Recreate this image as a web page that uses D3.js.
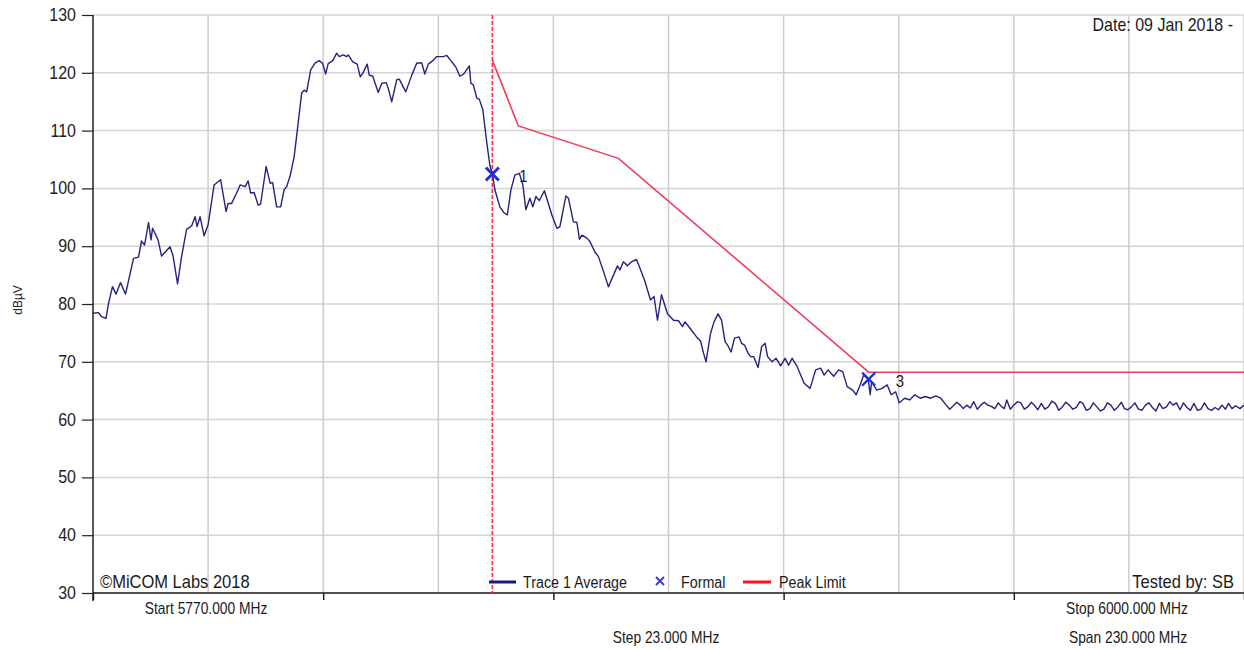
<!DOCTYPE html>
<html>
<head>
<meta charset="utf-8">
<script src="https://cdn.jsdelivr.net/npm/d3@7"></script>
<style>
html,body{margin:0;padding:0;background:#fff;}
svg{display:block;}
text{font-family:"Liberation Sans",Arial,sans-serif;fill:#1a1a1a;}
</style>
</head>
<body>
<svg id="chart" width="1244" height="650"></svg>
<script>
// ---------- data ----------
const freqMHz = [5770.0,5771.1,5771.7,5772.6,5773.1,5773.9,5774.6,5775.5,5776.5,5778.1,5779.1,5779.7,5780.3,5781.1,5781.6,5781.9,5783.0,5783.7,5785.4,5786.0,5786.9,5787.7,5788.7,5789.7,5790.4,5790.8,5791.4,5792.2,5793.0,5794.2,5795.5,5796.6,5797.0,5797.7,5798.7,5799.4,5800.4,5801.0,5801.5,5802.2,5803.0,5803.5,5804.6,5805.4,5805.9,5806.7,5807.5,5808.2,5808.7,5809.4,5810.2,5811.0,5811.7,5812.2,5812.7,5813.5,5814.4,5815.2,5815.9,5816.5,5817.0,5817.9,5818.7,5819.2,5820.0,5820.7,5821.0,5821.9,5822.8,5823.4,5823.9,5824.8,5825.2,5825.9,5827.0,5827.7,5828.6,5829.0,5829.7,5830.7,5831.2,5832.5,5833.7,5834.7,5835.7,5836.3,5837.0,5837.9,5838.7,5840.0,5840.7,5841.7,5842.5,5843.3,5844.1,5845.2,5845.5,5846.0,5846.7,5847.2,5847.9,5848.3,5848.8,5849.3,5849.8,5850.3,5851.3,5852.1,5852.8,5853.5,5854.3,5855.2,5855.9,5856.5,5857.3,5857.9,5858.5,5859.2,5860.2,5861.7,5862.7,5863.3,5864.5,5865.0,5866.0,5866.7,5867.2,5867.7,5868.7,5869.3,5870.3,5871.0,5871.9,5873.0,5874.0,5874.8,5875.3,5876.0,5876.8,5877.6,5878.6,5879.3,5880.3,5881.4,5882.1,5882.8,5883.6,5884.8,5886.0,5887.0,5887.8,5888.3,5889.3,5890.6,5891.4,5892.0,5892.5,5893.4,5894.1,5894.9,5895.6,5896.3,5896.8,5897.5,5898.2,5899.1,5899.6,5900.2,5900.9,5901.4,5902.0,5902.9,5903.6,5904.3,5904.8,5905.7,5906.5,5907.4,5908.3,5909.0,5909.7,5910.7,5912.1,5913.3,5914.4,5915.4,5916.1,5916.9,5918.0,5919.0,5919.8,5920.7,5921.8,5922.5,5923.3,5924.0,5924.9,5925.3,5925.6,5926.6,5927.7,5928.7,5929.5,5930.4,5931.1,5932.2,5933.2,5934.2,5935.3,5936.3,5937.4,5938.4,5939.4,5940.5,5941.2,5941.9,5942.6,5943.3,5943.9,5944.6,5945.3,5946.0,5946.7,5947.4,5948.1,5948.8,5949.5,5950.2,5950.9,5951.6,5952.1,5952.6,5953.3,5954.0,5954.7,5955.4,5956.1,5956.8,5957.5,5958.1,5958.8,5959.5,5960.2,5960.9,5961.6,5962.3,5963.0,5963.7,5964.4,5965.1,5965.8,5966.5,5967.2,5967.8,5968.5,5969.2,5969.9,5970.6,5971.3,5972.0,5972.7,5973.4,5974.1,5974.8,5975.5,5976.1,5976.8,5977.5,5978.2,5978.9,5979.6,5980.3,5981.0,5981.7,5982.4,5983.1,5983.8,5984.5,5985.2,5985.8,5986.5,5987.2,5987.9,5988.6,5989.3,5990.0,5990.7,5991.4,5992.1,5992.8,5993.5,5994.2,5994.9,5995.6,5996.3,5996.9,5997.6,5998.3,5999.2,6000.0];
const traceDb = [78.4,78.5,77.8,77.5,80.1,83.0,81.7,83.7,81.7,87.9,88.1,90.9,90.2,94.1,91.1,93.1,91.1,88.3,89.9,88.3,83.5,88.2,92.9,93.5,95.1,93.4,95.1,91.8,93.7,100.6,101.5,96.0,97.4,97.4,99.2,100.6,100.3,101.3,99.2,99.3,97.1,97.3,103.8,100.9,101.0,96.8,96.8,99.8,100.3,102.2,105.5,111.3,116.5,117.0,116.7,120.5,121.7,122.1,121.6,119.8,121.6,122.1,123.4,122.8,123.1,122.8,123.1,121.9,121.5,119.3,119.9,121.5,119.6,119.4,116.6,118.2,118.3,117.3,115.0,118.8,118.9,116.7,119.6,121.7,121.7,119.8,121.5,122.1,122.8,122.8,123.0,121.9,121.0,119.4,119.8,121.2,118.2,117.9,115.6,115.4,113.6,110.7,107.2,104.0,102.5,99.8,96.8,95.8,95.4,99.7,102.3,102.6,100.6,96.3,98.3,96.8,98.6,97.9,99.6,95.4,93.1,93.4,98.7,98.3,94.2,94.1,91.2,91.9,91.4,90.8,89.0,88.2,85.9,83.0,85.0,86.6,85.9,87.3,86.6,87.3,87.7,86.2,83.9,80.7,81.3,77.2,81.6,78.3,77.2,77.1,76.1,76.9,75.8,74.3,73.6,71.5,70.0,74.9,76.9,78.3,77.2,73.5,72.9,71.7,74.1,74.3,73.2,72.9,71.5,70.9,70.9,69.0,72.6,73.2,70.9,70.0,70.6,69.3,70.6,69.4,70.6,69.2,66.3,65.4,68.6,68.9,67.7,68.6,67.5,68.6,68.3,65.7,65.1,64.3,66.0,67.7,67.0,64.3,66.6,65.1,65.4,66.0,64.3,64.8,62.9,63.7,63.4,64.3,63.7,64.0,63.7,64.1,63.7,62.5,61.8,62.4,63.0,62.5,61.9,62.5,62.0,63.1,61.8,62.5,63.0,62.5,62.3,61.9,62.9,62.2,61.9,63.4,61.8,62.5,63.1,62.9,61.8,62.2,63.0,62.5,61.7,62.8,61.8,62.2,63.2,62.8,61.6,62.2,63.0,62.5,61.8,62.1,63.1,62.8,61.6,61.9,62.9,62.2,61.5,61.8,62.9,62.5,61.6,62.2,63.0,61.9,61.7,62.2,62.9,61.8,61.6,62.5,62.9,62.1,61.5,62.8,61.9,62.2,63.1,62.5,62.9,61.7,62.9,62.1,61.6,62.8,61.6,61.8,62.9,61.9,61.6,62.1,61.7,62.5,61.8,62.8,61.9,62.4,61.9,62.5];
const limitFreq = [5849.8, 5855, 5875, 5925, 6000];
const limitDb   = [122.2, 110.8, 105.2, 68.2, 68.2];
const markerFreq  = [5849.8, 5925];
const markerDb    = [102.5, 67.0];
const markerLabel = ["1", "3"];
const yTicks = [30,40,50,60,70,80,90,100,110,120,130];
const xGridFreq = [5770,5793,5816,5839,5862,5885,5908,5931,5954,5977,6000];
const xTickFreq = [5770,5816,5862,5908,5954,6000];
const legendItems = ["Trace 1 Average", "Formal", "Peak Limit"];
const infoTexts = {date: "Date: 09 Jan 2018 -", tested: "Tested by: SB", copy: "\u00A9MiCOM Labs 2018",
  start: "Start 5770.000 MHz", stop: "Stop 6000.000 MHz", step: "Step 23.000 MHz", span: "Span 230.000 MHz", yTitle: "dB\u00B5V"};

// ---------- layout ----------
const L = 93, R = 1244, T = 15, B = 593;
const svg = d3.select("#chart");
const x = d3.scaleLinear().domain([5770, 6000]).range([L, R]);
const y = d3.scaleLinear().domain([30, 130]).range([B, T]);
const SY = 1.15;
function label(px, py, str, size, anchor, color) {
  const g = svg.append("g").attr("transform", `translate(${px},${py}) scale(1,${SY})`);
  g.append("text").attr("font-size", size).attr("text-anchor", anchor || "start")
    .style("fill", color || "#1a1a1a").text(str);
  return g;
}

// grid
svg.append("g").selectAll("line").data(yTicks).join("line")
  .attr("x1", L).attr("x2", R).attr("y1", d => y(d)).attr("y2", d => y(d))
  .attr("stroke", "#d4d4d4").attr("stroke-width", 1.5);
svg.append("g").selectAll("line").data(xGridFreq.slice(1)).join("line")
  .attr("x1", d => x(d)).attr("x2", d => x(d)).attr("y1", T).attr("y2", B)
  .attr("stroke", "#cdcdcd").attr("stroke-width", 1.5);

// y axis
const yAxis = d3.axisLeft(y).tickValues(yTicks).tickSize(11).tickPadding(5).tickFormat(d3.format("d"));
const ya = svg.append("g").attr("transform", `translate(${L},0)`).call(yAxis);
ya.select(".domain").remove();
ya.selectAll(".tick line").attr("stroke", "#222").attr("stroke-width", 1.2);
ya.selectAll(".tick text").remove();
yTicks.forEach(v => label(76, y(v) + 6, String(v), 16, "end", "#222"));
svg.append("line").attr("x1", L).attr("x2", L).attr("y1", T).attr("y2", 601).attr("stroke", "#222").attr("stroke-width", 1.5);

// x axis
const xAxis = d3.axisBottom(x).tickValues(xTickFreq).tickSize(7).tickFormat("");
const xa = svg.append("g").attr("transform", `translate(0,${B})`).call(xAxis);
xa.select(".domain").remove();
xa.selectAll(".tick line").attr("stroke", "#222").attr("stroke-width", 1.5);
svg.append("line").attr("x1", L).attr("x2", R).attr("y1", B).attr("y2", B).attr("stroke", "#222").attr("stroke-width", 1.5);

// y title
svg.append("text").attr("transform", `translate(22,300) rotate(-90)`).attr("text-anchor", "middle")
  .attr("font-size", 12).style("fill", "#222").text(infoTexts.yTitle);

// limit line
svg.append("path").datum(limitFreq.map((f, i) => [f, limitDb[i]]))
  .attr("d", d3.line().x(d => x(d[0])).y(d => y(d[1])))
  .attr("fill", "none").attr("stroke", "#f23c5c").attr("stroke-width", 1.6);

// marker 1 vertical dashed line
const mx = x(markerFreq[0]);
svg.append("path").attr("d", `M${mx},${T}V${B}`)
  .attr("fill", "none").attr("stroke", "#ff2a48").attr("stroke-width", 1.6).attr("stroke-dasharray", "4,2");

// trace
svg.append("path").datum(freqMHz.map((f, i) => [f, traceDb[i]]))
  .attr("d", d3.line().x(d => x(d[0])).y(d => y(d[1])))
  .attr("fill", "none").attr("stroke", "#24237e").attr("stroke-width", 1.4).attr("stroke-linejoin", "round");

// markers
markerFreq.forEach((f, i) => {
  const cx = x(f), cy = y(markerDb[i]), s = 6.5;
  svg.append("path").attr("d", `M${cx - s},${cy - s}L${cx + s},${cy + s}M${cx - s},${cy + s}L${cx + s},${cy - s}`)
    .attr("stroke", "#1f2fd8").attr("stroke-width", i === 0 ? 3 : 2.2).attr("fill", "none");
  label(cx + 27, cy + 8, markerLabel[i], 15, "start", "#222");
});

// info texts
label(1233, 31, infoTexts.date, 16, "end");
label(1234, 588, infoTexts.tested, 16.5, "end");
label(100, 588, infoTexts.copy, 16.5, "start");
label(206, 614, infoTexts.start, 13.8, "middle");
label(1127, 614, infoTexts.stop, 13.8, "middle");
label(666, 643, infoTexts.step, 13.8, "middle");
label(1128, 643, infoTexts.span, 13.8, "middle");

// legend
svg.append("line").attr("x1", 489).attr("x2", 516).attr("y1", 582).attr("y2", 582).attr("stroke", "#1c1a78").attr("stroke-width", 3);
label(523, 588, legendItems[0], 14.3, "start");
svg.append("path").attr("d", "M656,577L664,585M656,585L664,577").attr("stroke", "#3a3ae0").attr("stroke-width", 2).attr("fill", "none");
label(681, 588, legendItems[1], 14.3, "start");
svg.append("line").attr("x1", 743).attr("x2", 771).attr("y1", 582).attr("y2", 582).attr("stroke", "#ff1020").attr("stroke-width", 3);
label(779, 588, legendItems[2], 14.3, "start");
</script>
</body>
</html>
